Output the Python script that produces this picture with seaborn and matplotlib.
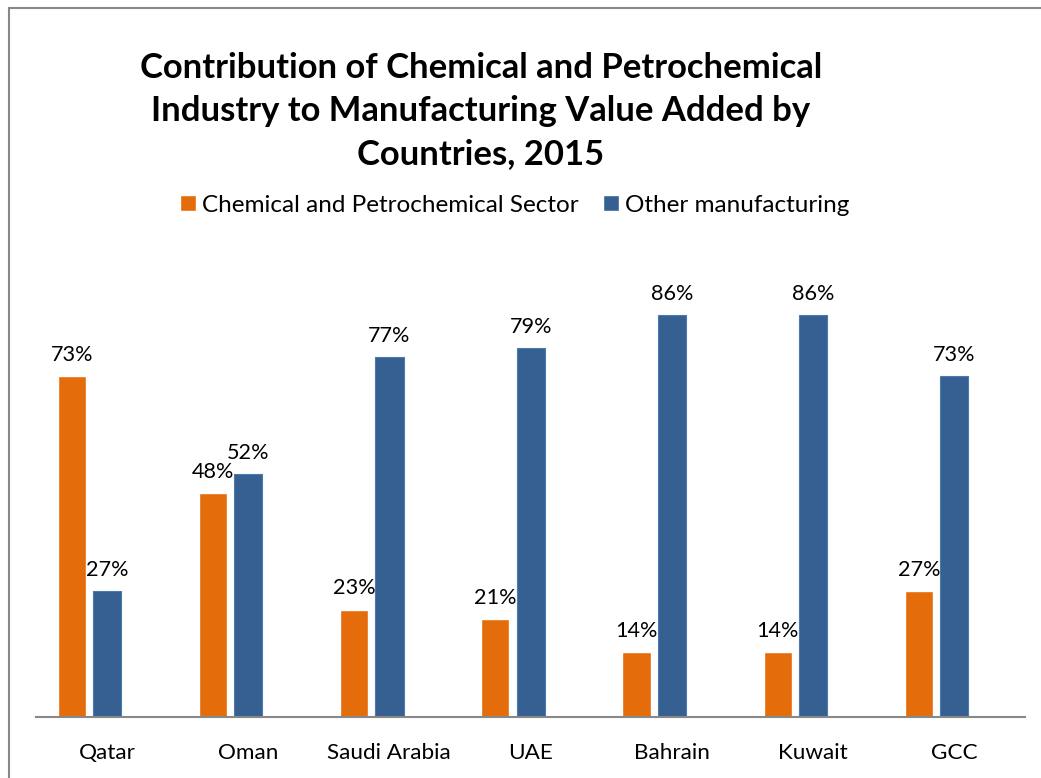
import matplotlib
matplotlib.use("Agg")
import matplotlib.pyplot as plt
import matplotlib.transforms as mtransforms
import seaborn as sns
import pandas as pd
from matplotlib.patches import Rectangle

countries = ["Qatar", "Oman", "Saudi Arabia", "UAE", "Bahrain", "Kuwait", "GCC"]
chemical = [73, 48, 23, 21, 14, 14, 27]
other = [27, 52, 77, 79, 86, 86, 73]
series_names = ["Chemical and Petrochemical Sector", "Other manufacturing"]
title = "Contribution of Chemical and Petrochemical\nIndustry to Manufacturing Value Added by\nCountries, 2015"

df = pd.DataFrame({
    "Country": countries * 2,
    "Series": [series_names[0]] * len(countries) + [series_names[1]] * len(countries),
    "Value": chemical + other,
})

sns.set_theme(style="white")
plt.rcParams["font.family"] = ["Lato", "DejaVu Sans"]
plt.rcParams["text.color"] = "#000000"

fig = plt.figure(figsize=(10.41, 7.78), dpi=100)
ax = fig.add_axes([36 / 1041, 0.0784, 989 / 1041, 0.6003])

palette = {series_names[0]: "#E46C0A", series_names[1]: "#376092"}
sns.barplot(data=df, x="Country", y="Value", hue="Series", order=countries,
            hue_order=series_names, palette=palette, width=0.5, gap=0.2,
            saturation=1, ax=ax, legend=True)

for p in ax.containers[1]:
    p.set_edgecolor("#4A7AB0")
    p.set_linewidth(0.8)

for cont in ax.containers:
    ax.bar_label(cont, labels=[f"{v:.0f}%" for v in cont.datavalues],
                 padding=8, fontsize=15.6, color="#000000")

ax.set_ylim(0, 100)
ax.set_xlim(-0.379, 6.627)
ax.set_xlabel("")
ax.set_ylabel("")
ax.set_yticks([])
ax.tick_params(axis="x", labelsize=16.2, colors="#000000", pad=19, length=0)
shift = mtransforms.ScaledTranslation(17.5 / 100, 0, fig.dpi_scale_trans)
for lbl in ax.get_xticklabels():
    lbl.set_transform(lbl.get_transform() + shift)
for s in ["top", "right", "left"]:
    ax.spines[s].set_visible(False)
ax.spines["bottom"].set_color("#888888")
ax.spines["bottom"].set_linewidth(1.5)

leg = ax.legend(loc="center", bbox_to_anchor=(0.4947, 0.7365), bbox_transform=fig.transFigure,
                ncol=2, frameon=False, fontsize=17.5, handlelength=0.66, handleheight=0.66,
                handletextpad=0.25, columnspacing=1.0)

fig.text(0.462, 0.8575, title, ha="center", va="center", fontsize=24.9,
         fontweight="bold", linespacing=1.43, color="#000000")

fig.patches.append(Rectangle((9 / 1041, -0.1), 1.2, (778 - 8) / 778 + 0.1,
                             transform=fig.transFigure, fill=False,
                             edgecolor="#888888", linewidth=1.5))

fig.savefig("out.png", dpi=100)
